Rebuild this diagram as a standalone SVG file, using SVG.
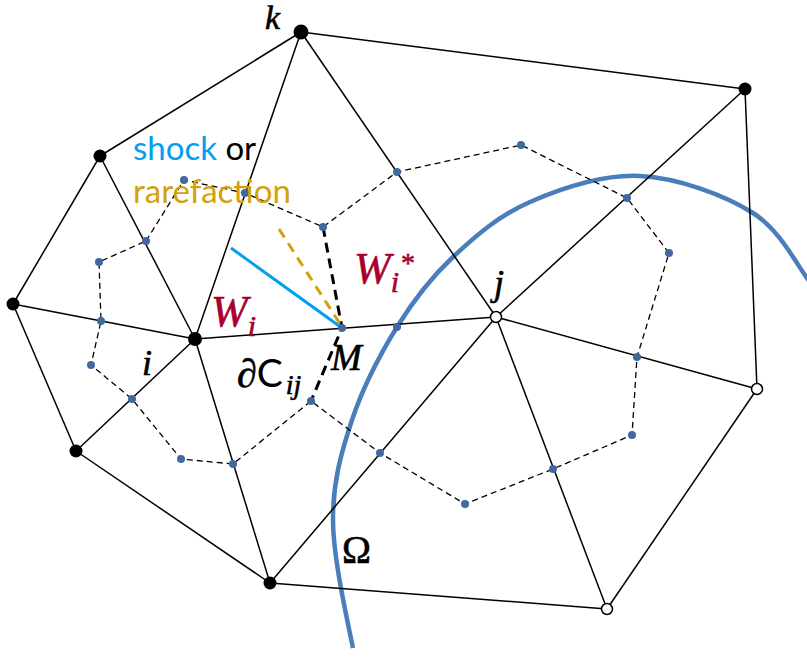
<svg xmlns="http://www.w3.org/2000/svg" width="807" height="657" viewBox="0 0 807 657">
<style>
.e{stroke:#000;stroke-width:1.5;fill:none}
.d{stroke:#000;stroke-width:1.3;stroke-dasharray:6 4;fill:none}
.dt{stroke:#000;stroke-width:3;stroke-dasharray:10 6;fill:none}
.pn{fill:#000}
.wn{fill:#fff;stroke:#000;stroke-width:1.5}
.dn{fill:#41699D}
.m{font-family:"Liberation Serif","DejaVu Serif",serif;font-style:italic;fill:#000;stroke:#000;stroke-width:0.6}
.w{font-family:"Liberation Serif","DejaVu Serif",serif;font-style:italic;fill:#A8002D;stroke:#A8002D;stroke-width:0.6}
.u{font-family:"Liberation Serif","DejaVu Serif",serif;fill:#000;stroke:#000;stroke-width:0.6}
.t{font-family:Lato,"Open Sans",sans-serif;font-size:33px}
</style>
<rect width="807" height="657" fill="#fff"/>
<path id="omega-boundary" d="M812,285 C797.5,267.2 781.7,231.2 753,213 C724.3,194.8 677.2,177.8 640,176 C602.8,174.2 561.2,188.5 530,202 C498.8,215.5 475.2,236.2 453,257 C430.8,277.8 413.8,299.8 397,327 C380.2,354.2 362.7,387.8 352,420 C341.3,452.2 332.8,482 333,520 C333.2,558 346.8,618 353,648" fill="none" stroke="#4A7EBB" stroke-width="4.5"/>
<g id="connectors">
<line class="e" x1="301" y1="32" x2="745" y2="89"/>
<line class="e" x1="301" y1="32" x2="100" y2="156"/>
<line class="e" x1="301" y1="32" x2="195" y2="339"/>
<line class="e" x1="301" y1="32" x2="496" y2="317"/>
<line class="e" x1="100" y1="156" x2="13" y2="304"/>
<line class="e" x1="100" y1="156" x2="195" y2="339"/>
<line class="e" x1="13" y1="304" x2="195" y2="339"/>
<line class="e" x1="13" y1="304" x2="76" y2="451"/>
<line class="e" x1="76" y1="451" x2="195" y2="339"/>
<line class="e" x1="76" y1="451" x2="270" y2="583"/>
<line class="e" x1="195" y1="339" x2="270" y2="583"/>
<line class="e" x1="195" y1="339" x2="496" y2="317"/>
<line class="e" x1="270" y1="583" x2="496" y2="317"/>
<line class="e" x1="270" y1="583" x2="607" y2="609"/>
<line class="e" x1="496" y1="317" x2="745" y2="89"/>
<line class="e" x1="745" y1="89" x2="757" y2="389"/>
<line class="e" x1="496" y1="317" x2="757" y2="389"/>
<line class="e" x1="496" y1="317" x2="607" y2="609"/>
<line class="e" x1="757" y1="389" x2="607" y2="609"/>
</g>
<g id="dual-cells">
<polygon class="d" points="146,241 184,180 245,193 323,227 397,172 521,145 627,198 669,253 637,357 632,435 553,469 465,504 380,453 311,401 233,464 181,459 132,399 91,365 101,321 99,262"/>
<polyline id="dCij" class="dt" points="323,227 342,328 311,401"/>
</g>
<g id="waves">
<line x1="231" y1="248" x2="342" y2="328" stroke="#00A0F0" stroke-width="3"/>
<line x1="279" y1="229" x2="342" y2="327" stroke="#D4A00C" stroke-width="3" stroke-dasharray="10 7"/>
</g>
<g id="node-k"><circle class="pn" cx="301" cy="32" r="7.5"/><text class="m" x="265" y="29" font-size="34">k</text></g>
<g id="node-a"><circle class="pn" cx="745" cy="89" r="6.5"/></g>
<g id="node-b"><circle class="pn" cx="100" cy="156" r="6.5"/></g>
<g id="node-c"><circle class="pn" cx="13" cy="304" r="6.5"/></g>
<g id="node-i"><circle class="pn" cx="195" cy="339" r="7"/><text class="m" x="142" y="375" font-size="36">i</text></g>
<g id="node-d"><circle class="pn" cx="76" cy="451" r="6.5"/></g>
<g id="node-e"><circle class="pn" cx="270" cy="583" r="6.5"/></g>
<g id="node-j"><circle class="wn" cx="496" cy="317" r="5.5"/><text class="m" x="494" y="295" font-size="36">j</text></g>
<g id="node-f"><circle class="wn" cx="757" cy="389" r="5.5"/></g>
<g id="node-g"><circle class="wn" cx="607" cy="609" r="5.5"/></g>
<g id="dual-points">
<circle class="dn" cx="146" cy="241" r="4"/>
<circle class="dn" cx="184" cy="180" r="4"/>
<circle class="dn" cx="245" cy="193" r="4"/>
<circle class="dn" cx="323" cy="227" r="4"/>
<circle class="dn" cx="397" cy="172" r="4"/>
<circle class="dn" cx="521" cy="145" r="4"/>
<circle class="dn" cx="627" cy="198" r="4"/>
<circle class="dn" cx="669" cy="253" r="4"/>
<circle class="dn" cx="637" cy="357" r="4"/>
<circle class="dn" cx="632" cy="435" r="4"/>
<circle class="dn" cx="553" cy="469" r="4"/>
<circle class="dn" cx="465" cy="504" r="4"/>
<circle class="dn" cx="380" cy="453" r="4"/>
<circle class="dn" cx="311" cy="401" r="4"/>
<circle class="dn" cx="233" cy="464" r="4"/>
<circle class="dn" cx="181" cy="459" r="4"/>
<circle class="dn" cx="132" cy="399" r="4"/>
<circle class="dn" cx="91" cy="365" r="4"/>
<circle class="dn" cx="101" cy="321" r="4"/>
<circle class="dn" cx="99" cy="262" r="4"/>
<circle class="dn" cx="397" cy="327" r="4"/>
<circle id="node-M" class="dn" cx="342" cy="328" r="4"/>
</g>
<g id="labels">
<text class="t" x="133" y="160"><tspan fill="#00A0F0">shock</tspan><tspan fill="#000"> or</tspan></text>
<text class="t" x="133" y="203" fill="#D4A00C">rarefaction</text>
<text class="w" x="211" y="326" font-size="44">W<tspan font-size="30" dy="10">i</tspan></text>
<text class="w" x="354" y="283" font-size="44">W<tspan font-size="30" dy="9">i</tspan><tspan font-size="28" font-style="normal" dx="2" dy="-20">*</tspan></text>
<text class="m" x="331" y="370" font-size="37">M</text>
<text x="237" y="387" font-size="40"><tspan class="u">∂</tspan><tspan font-family="Lato,sans-serif" font-size="39" fill="#000">C</tspan><tspan class="m" font-size="28" dx="3" dy="7">ij</tspan></text>
<text class="u" x="342" y="563" font-size="39">Ω</text>
</g>
</svg>
